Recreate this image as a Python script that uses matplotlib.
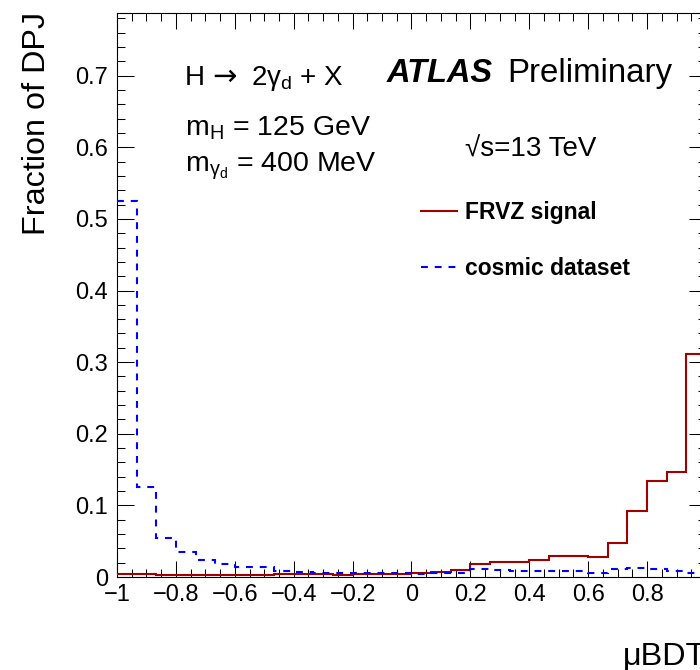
import numpy as np
import matplotlib
matplotlib.use("Agg")
import matplotlib.pyplot as plt
from matplotlib.ticker import MultipleLocator, FixedLocator, FixedFormatter

plt.rcParams["font.family"] = ["Liberation Sans", "DejaVu Sans"]
plt.rcParams["mathtext.fontset"] = "custom"
plt.rcParams["mathtext.rm"] = "Liberation Sans"
plt.rcParams["mathtext.it"] = "Liberation Sans:italic"
plt.rcParams["mathtext.bf"] = "Liberation Sans:bold"

# --- data: fraction of dark-photon jets per muBDT bin (30 bins on [-1, 1]) ---
bdt_range = (-1.0, 1.0)
n_bins = 30

signal_frac = [0.0042, 0.0042, 0.003, 0.003, 0.003, 0.003, 0.003, 0.003,
               0.0035, 0.0035, 0.0035, 0.0025, 0.0035, 0.0035, 0.0035,
               0.005, 0.0066, 0.0098, 0.0177, 0.0205, 0.021, 0.0237,
               0.029, 0.030, 0.028, 0.048, 0.092, 0.134, 0.1466, 0.311]

cosmic_frac = [0.525, 0.125, 0.055, 0.035, 0.024, 0.018, 0.0145, 0.0135,
               0.0085, 0.0066, 0.006, 0.005, 0.0055, 0.006, 0.005,
               0.004, 0.006, 0.006, 0.0115, 0.0098, 0.009, 0.009,
               0.009, 0.009, 0.006, 0.0115, 0.0125, 0.011, 0.009, 0.006]

series_labels = ["FRVZ signal", "cosmic dataset"]

x_ticks = [-1.0, -0.8, -0.6, -0.4, -0.2, 0.0, 0.2, 0.4, 0.6, 0.8, 1.0]
x_tick_labels = ["\u22121", "\u22120.8", "\u22120.6", "\u22120.4", "\u22120.2",
                 "0", "0.2", "0.4", "0.6", "0.8", ""]
y_ticks = [0.0, 0.1, 0.2, 0.3, 0.4, 0.5, 0.6, 0.7]
y_tick_labels = ["0", "0.1", "0.2", "0.3", "0.4", "0.5", "0.6", "0.7"]

# --- figure geometry (pixels) ---
W, H = 700, 670
fig = plt.figure(figsize=(W / 100, H / 100), dpi=100)
fig.patch.set_facecolor("white")

x0, x1, y_top, y_bot = 117, 706, 13, 577
ax = fig.add_axes([x0 / W, 1 - y_bot / H, (x1 - x0) / W, (y_bot - y_top) / H])

edges = np.linspace(bdt_range[0], bdt_range[1], n_bins + 1)
sig = ax.stairs(signal_frac, edges, baseline=None, color="#a00000",
                linewidth=1.5, label=series_labels[0], zorder=3)
cos = ax.stairs(cosmic_frac, edges, baseline=None, color="#0000ff",
                linewidth=1.5, linestyle=(0, (3.3, 3.3)),
                label=series_labels[1], zorder=4)

ax.set_xlim(*bdt_range)
ax.set_ylim(0, 0.7875)

ax.xaxis.set_major_locator(FixedLocator(x_ticks))
ax.xaxis.set_major_formatter(FixedFormatter(x_tick_labels))
ax.xaxis.set_minor_locator(MultipleLocator(0.05))
ax.yaxis.set_major_locator(FixedLocator(y_ticks))
ax.yaxis.set_major_formatter(FixedFormatter(y_tick_labels))
ax.yaxis.set_minor_locator(MultipleLocator(0.02))

ax.tick_params(which="both", direction="in", top=True, right=True,
               width=0.75, color="black")
ax.tick_params(axis="x", which="major", length=11.5, pad=5, labelsize=17)
ax.tick_params(axis="x", which="minor", length=5.8)
ax.tick_params(axis="y", which="major", length=12.5, pad=6.5, labelsize=17)
ax.tick_params(axis="y", which="minor", length=6.0)
for s in ax.spines.values():
    s.set_linewidth(0.8)
    s.set_color("black")


def put(x, y, s, **kw):
    """Place text at pixel coordinates (origin top-left)."""
    return fig.text(x / W, 1 - y / H, s, **kw)


# axis titles
put(45, 12, "Fraction of DPJ", rotation=90, rotation_mode="anchor",
    ha="right", va="baseline", fontsize=23.3)
put(706, 665, "\u03bcBDT", ha="right", va="baseline", fontsize=23.3)

# physics labels: process line is set in three pieces so the arrow keeps
# a long glyph with tight spacing
put(185, 85, "H", ha="left", va="baseline", fontsize=20)
put(212, 85, "\u2192", ha="left", va="baseline", fontsize=21,
    family=["DejaVu Sans"])
put(251, 85, r"2$\mathrm{\gamma}_{\mathrm{d}}$ + X", ha="left",
    va="baseline", fontsize=20)
put(185, 135, r"m$_{\mathrm{H}}$ = 125 GeV", ha="left", va="baseline",
    fontsize=20.5)
put(185, 172, r"m$_{\mathrm{\gamma}_{\mathrm{d}}}$ = 400 MeV", ha="left",
    va="baseline", fontsize=20.5)
put(387, 82, "ATLAS", ha="left", va="baseline", fontsize=23.5,
    fontweight="bold", fontstyle="italic")
put(507, 82, "Preliminary", ha="left", va="baseline", fontsize=23.8)
put(465, 157, "\u221as=13 TeV", ha="left", va="baseline", fontsize=20)

ax.legend(handles=[sig, cos], loc="upper left",
          bbox_to_anchor=(421 / W, 1 - 201 / H), bbox_transform=fig.transFigure,
          frameon=False, prop=dict(weight="bold", size=16.5),
          handlelength=1.55, handletextpad=0.35, labelspacing=1.45,
          borderpad=0, borderaxespad=0)

fig.savefig("out.png", dpi=100, facecolor="white")
